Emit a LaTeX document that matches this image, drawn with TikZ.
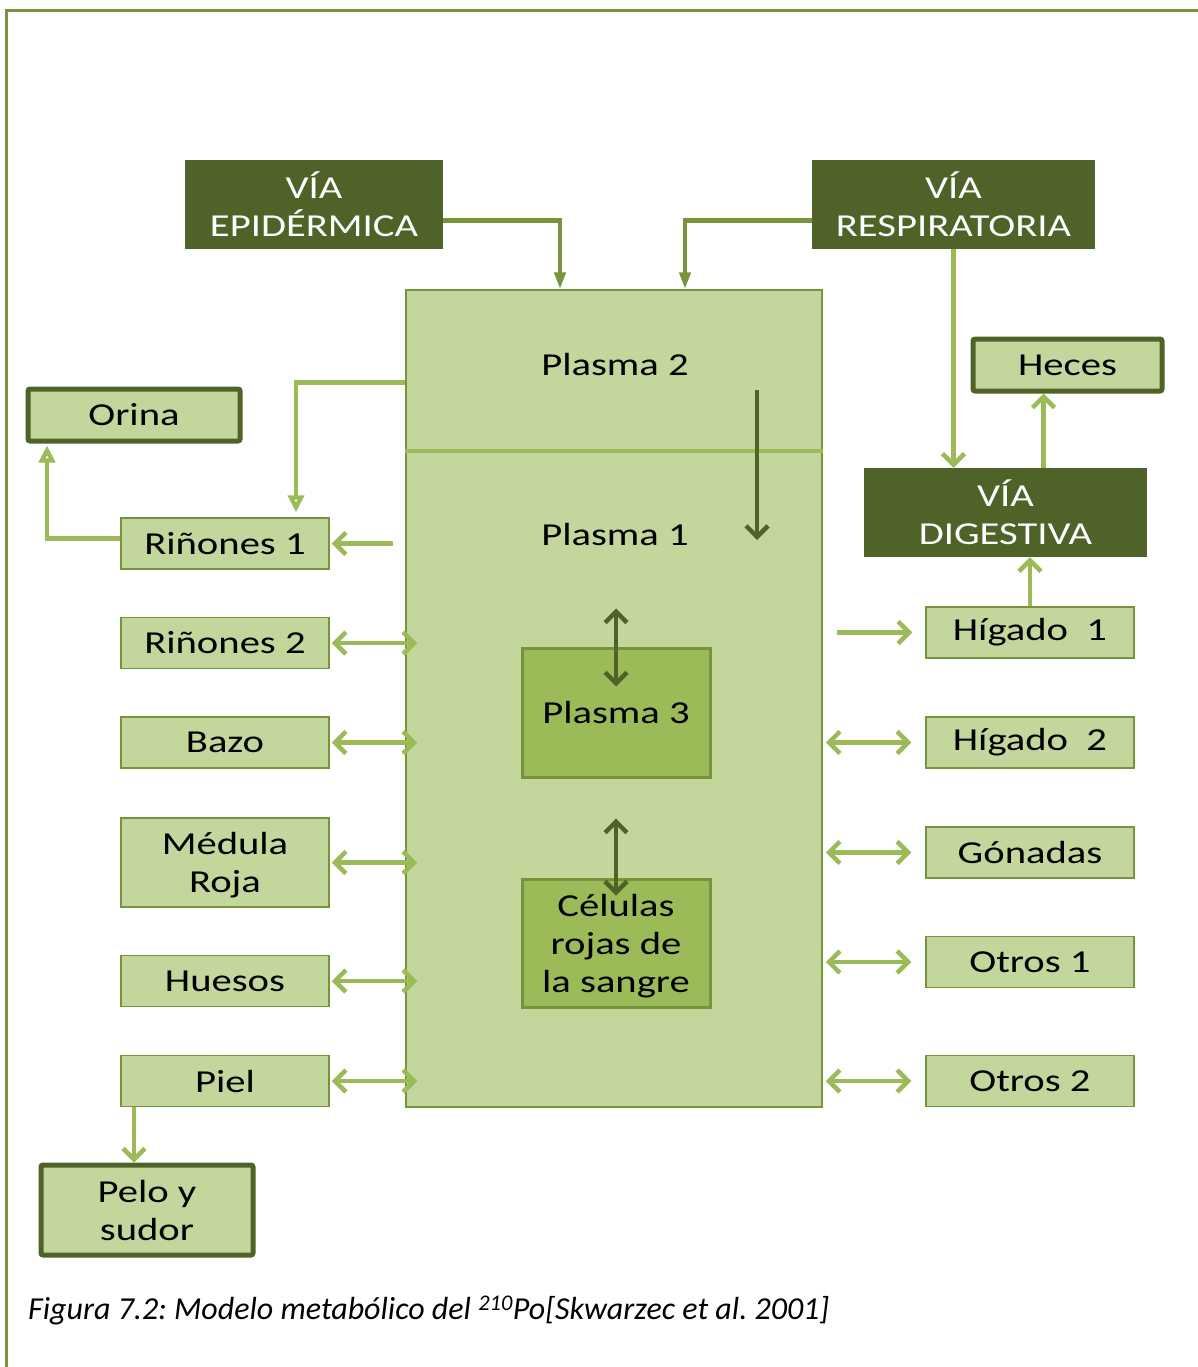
\documentclass[tikz,border=0pt]{standalone}
\usepackage{fontspec}
\setmainfont{Carlito}
\newfontfamily\cajafont[FakeStretch=1.27]{Carlito}
\usetikzlibrary{arrows.meta}

\definecolor{oliva}{HTML}{4F6228}
\definecolor{verde}{HTML}{77933C}
\definecolor{claro}{HTML}{C3D69B}
\definecolor{medio}{HTML}{9BBB59}

\tikzset{
  caja/.style={draw=verde, line width=1.5pt, fill=claro, inner sep=0pt,
    minimum width=208pt, minimum height=51pt, align=center,
    font=\cajafont\fontsize{32}{38}\selectfont},
  salida/.style={caja, draw=oliva, line width=5pt, rounded corners=2pt},
  via/.style={fill=oliva, text=white, inner sep=0pt, align=center,
    minimum height=89pt, font=\cajafont\fontsize{32}{38}\selectfont},
  nucleo/.style={caja, fill=medio, draw=verde, line width=3pt,
    minimum width=188pt},
  punta/.tip={Straight Barb[length=11pt,width=22pt]},
  flujo/.style={medio, line width=4.5pt, -punta},
  doble/.style={flujo, punta-punta},
  entrada/.style={verde, line width=4.5pt, -{Triangle[length=17pt,width=11pt]}},
  abierta/.style={medio, line width=4.5pt, -{Triangle[open,length=17pt,width=16pt,fill=white]}},
  interno/.style={oliva, line width=4.5pt, -punta},
}

\begin{document}
\frenchspacing
\begin{tikzpicture}[x=1pt,y=-1pt]
\useasboundingbox (0,0) rectangle (1198,1367);

% marco
\draw[verde, line width=3pt] (6,1367) -- (6,11) -- (1198,11);

% compartimentos del plasma
\node[draw=verde, line width=1.5pt, fill=claro, minimum width=416pt,
  minimum height=817pt, inner sep=0pt] (plasma) at (614,698.5) {};
\draw[medio, line width=4pt] (plasma.west |- 0,451) -- (plasma.east |- 0,451);
\node[font=\cajafont\fontsize{32}{38}\selectfont] (p2) at (615,365) {Plasma 2};
\node[font=\cajafont\fontsize{32}{38}\selectfont] (p1) at (615,535) {Plasma 1};
\node[nucleo, minimum height=129pt] (p3) at (616,712.5) {Plasma 3};
\node[nucleo, minimum height=128pt, text depth=-8pt] (cel) at (616,943) {Células\\rojas de\\la sangre};

% vias de entrada
\node[via, minimum width=258pt] (epi) at (314,204.5) {VÍA\\EPIDÉRMICA};
\node[via, minimum width=283pt] (resp) at (953.5,204.5) {VÍA\\RESPIRATORIA};
\node[via, minimum width=283pt] (dig) at (1005.5,512.5) {VÍA\\DIGESTIVA};

% excreciones
\node[salida, minimum width=212pt, minimum height=52pt] (orina) at (134,415) {Orina};
\node[salida, minimum width=189pt, minimum height=52pt] (heces) at (1067.5,365) {Heces};
\node[salida, minimum width=212pt, minimum height=90pt] (pelo) at (147,1210) {Pelo y\\sudor};

% organos
\node[caja] (rin1) at (225,543.5) {Riñones 1};
\node[caja] (rin2) at (225,643) {Riñones 2};
\node[caja] (bazo) at (225,742.5) {Bazo};
\node[caja, minimum height=89pt, text depth=-8pt] (medula) at (225,862.5) {Médula\\Roja};
\node[caja] (huesos) at (225,981) {Huesos};
\node[caja] (piel) at (225,1081) {Piel};

\node[caja] (hig1) at (1030,632.5) {Hígado~~1};
\node[caja] (hig2) at (1030,742.5) {Hígado~~2};
\node[caja] (gon) at (1030,852.5) {Gónadas};
\node[caja] (otr1) at (1030,962) {Otros 1};
\node[caja] (otr2) at (1030,1081) {Otros 2};

% entradas al plasma
\draw[entrada] ([yshift=-16pt]epi.east) -| ([xshift=-54pt]plasma.north);
\draw[entrada] ([yshift=-16pt]resp.west) -| ([xshift=71pt]plasma.north);
\draw[flujo] (resp.south) -- (resp.south |- dig.north);

% intercambios internos
\draw[interno] ([xshift=142pt,yshift=-25pt]p2.center) -- ([xshift=142pt,yshift=-5pt]p1.center);
\draw[interno, punta-punta] ([yshift=38pt]p3.north) -- ([yshift=-40pt]p3.north);
\draw[interno, punta-punta] ([yshift=59pt]cel.north) -- ([yshift=-18pt]cel.north);

% rinones y orina
\draw[abierta, shorten >=5pt] ([yshift=-93pt]plasma.north west) -| ([xshift=71pt]rin1.north);
\draw[flujo, shorten <=12pt, shorten >=2pt] (rin1.east -| plasma.west) -- (rin1.east);
\draw[abierta, shorten >=2pt] ([yshift=5pt]rin1.west) -| ([xshift=-87pt]orina.south);

% organos de la izquierda
\foreach \o in {rin2,bazo,medula,huesos,piel}
  \draw[doble, shorten <=2pt, shorten >=-12pt] (\o.east) -- (\o.east -| plasma.west);
\draw[flujo] ([xshift=-91pt]piel.south) -- ([xshift=-91pt]piel.south |- pelo.north);

% organos de la derecha
\draw[flujo, shorten <=14pt, shorten >=13pt] (plasma.east |- hig1) -- (hig1.west);
\foreach \o in {hig2,gon,otr1,otr2}
  \draw[doble, shorten <=3pt, shorten >=14pt] (plasma.east |- \o) -- (\o.west);
\draw[flujo] (hig1.north) -- (hig1.north |- dig.south);
\draw[flujo] ([xshift=38pt]dig.north) -- ([xshift=38pt]dig.north |- heces.south);

% pie de figura
\node[anchor=west, inner sep=0pt, font=\fontsize{32}{36}\selectfont\itshape] (pie) at (28,1310)
  {Figura 7.2: Modelo metabólico del \textsuperscript{210}Po[Skwarzec et al. 2001]};

\end{tikzpicture}
\end{document}
